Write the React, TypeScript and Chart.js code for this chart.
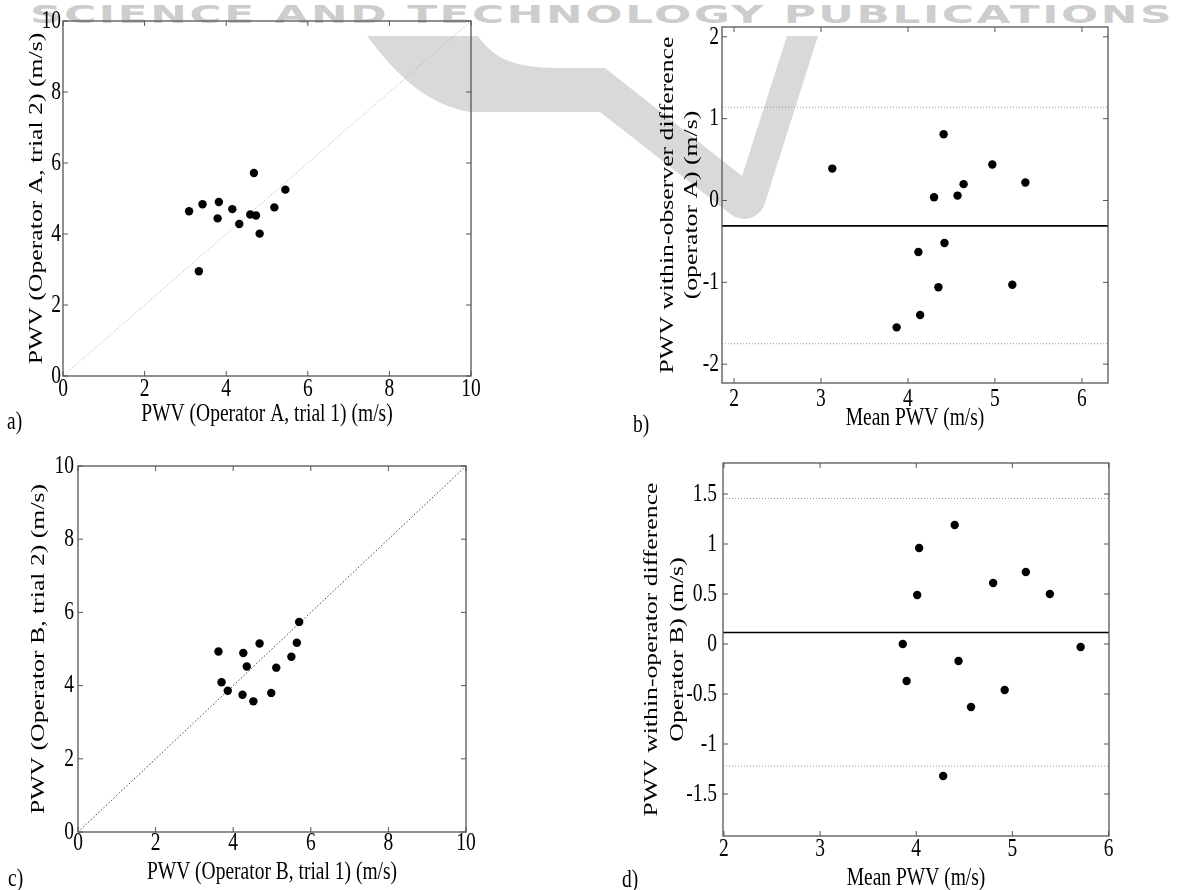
import { useEffect, useRef } from "react";
import { Chart, registerables } from "chart.js";
Chart.register(...registerables);

// ---------- Panel a: Operator A, trial 1 vs trial 2 ----------
const aTrial1 = [3.09, 3.42, 3.82, 3.79, 4.15, 4.32, 4.59, 4.73, 4.68, 4.82, 5.18, 5.45, 3.33];
const aTrial2 = [4.64, 4.84, 4.9, 4.44, 4.7, 4.28, 4.55, 4.52, 5.72, 4.01, 4.75, 5.25, 2.95];
// ---------- Panel b: Bland-Altman operator A ----------
const bMean = [3.13, 4.41, 4.97, 5.35, 4.3, 4.57, 4.64, 4.42, 4.12, 4.35, 5.2, 4.14, 3.87];
const bDiff = [0.39, 0.81, 0.44, 0.22, 0.04, 0.06, 0.2, -0.52, -0.63, -1.06, -1.03, -1.4, -1.55];
const bBias = -0.31;
const bUpper = 1.14;
const bLower = -1.75;
// ---------- Panel c: Operator B, trial 1 vs trial 2 ----------
const cTrial1 = [3.62, 3.7, 3.86, 4.26, 4.35, 4.24, 4.52, 4.68, 4.98, 5.11, 5.5, 5.64, 5.7];
const cTrial2 = [4.93, 4.09, 3.86, 4.89, 4.52, 3.75, 3.57, 5.15, 3.8, 4.49, 4.79, 5.17, 5.74];
// ---------- Panel d: Bland-Altman operator B ----------
const dMean = [4.4, 4.03, 4.01, 4.8, 5.14, 5.39, 3.86, 5.71, 4.44, 3.9, 4.92, 4.57, 4.28];
const dDiff = [1.19, 0.96, 0.49, 0.61, 0.72, 0.5, 0.0, -0.03, -0.17, -0.37, -0.46, -0.63, -1.32];
const dBias = 0.115;
const dUpper = 1.455;
const dLower = -1.22;

// identity line and ranges / ticks
const identity = [0, 10];
const scatterRange = [0, 10];
const scatterTicks = [0, 2, 4, 6, 8, 10];
const bXRange = [1.862, 6.3];
const bYRange = [-2.23, 2.12];
const bXTicks = [2, 3, 4, 5, 6];
const bYTicks = [-2, -1, 0, 1, 2];
const dXRange = [1.99, 6.005];
const dYRange = [-1.92, 1.81];
const dXTicks = [2, 3, 4, 5, 6];
const dYTicks = [-1.5, -1, -0.5, 0, 0.5, 1, 1.5];

const FONT = "'Liberation Serif', 'Times New Roman', serif";
const FS = 19.5;
const K = 1.32; // vertical stretch of all text, as in the reference

const stretchText = {
  id: "stretchText",
  beforeDraw(chart: any) {
    const ctx: any = chart.ctx;
    if (ctx.__stretched) return;
    ctx.__stretched = true;
    const orig = ctx.fillText.bind(ctx);
    ctx.fillText = (text: string, x: number, y: number, maxWidth?: number) => {
      const m = ctx.getTransform();
      const p = m.transformPoint(new DOMPoint(x, y));
      ctx.save();
      ctx.setTransform(
        new DOMMatrix().translate(p.x, p.y).scale(1, K).translate(-p.x, -p.y).multiply(m)
      );
      if (maxWidth === undefined || maxWidth === null) orig(text, x, y);
      else orig(text, x, y, maxWidth);
      ctx.restore();
    };
  },
};

const frame = {
  id: "frame",
  afterDraw(chart: any) {
    const { ctx, chartArea } = chart;
    const { left, right, top, bottom } = chartArea;
    const xs = chart.scales.x;
    const ys = chart.scales.y;
    const L = 5;
    ctx.save();
    ctx.strokeStyle = "#555";
    ctx.lineWidth = 1;
    ctx.beginPath();
    for (const t of xs.ticks) {
      const px = xs.getPixelForValue(t.value);
      ctx.moveTo(px, bottom);
      ctx.lineTo(px, bottom - L);
      ctx.moveTo(px, top);
      ctx.lineTo(px, top + L);
    }
    for (const t of ys.ticks) {
      const py = ys.getPixelForValue(t.value);
      ctx.moveTo(left, py);
      ctx.lineTo(left + L, py);
      ctx.moveTo(right, py);
      ctx.lineTo(right - L, py);
    }
    ctx.stroke();
    ctx.lineWidth = 1.3;
    ctx.strokeRect(left, top, right - left, bottom - top);
    ctx.restore();
  },
};

type PanelCfg = {
  width: number;
  height: number;
  padding: { left: number; top: number; right: number; bottom: number };
  yWidth: number;
  xHeight: number;
  xRange: number[];
  yRange: number[];
  xTicks: number[];
  yTicks: number[];
  xTickPad: number;
  yTickPad: number;
  xTitle: string;
  yTitle: string | string[];
  xTitlePad: number;
  yTitlePad: number;
  yTitleLH: number;
  datasets: any[];
};

function Panel({ cfg, style }: { cfg: PanelCfg; style: any }) {
  const ref = useRef<HTMLCanvasElement>(null);
  useEffect(() => {
    if (!ref.current) return;
    const font = { family: FONT, size: FS };
    const chart = new Chart(ref.current, {
      type: "scatter",
      data: { datasets: cfg.datasets },
      plugins: [stretchText, frame],
      options: {
        animation: false,
        responsive: false,
        devicePixelRatio: 1,
        layout: { padding: cfg.padding },
        plugins: { legend: { display: false }, tooltip: { enabled: false } },
        scales: {
          x: {
            type: "linear",
            min: cfg.xRange[0],
            max: cfg.xRange[1],
            grid: { display: false, drawTicks: false },
            border: { display: false },
            afterBuildTicks: (s: any) => {
              s.ticks = cfg.xTicks.map((v) => ({ value: v }));
            },
            afterFit: (s: any) => {
              s.height = cfg.xHeight;
            },
            ticks: {
              autoSkip: false,
              maxRotation: 0,
              padding: cfg.xTickPad,
              color: "#000",
              font,
              callback: (v: any) => String(+v),
            },
            title: {
              display: true,
              text: cfg.xTitle,
              color: "#000",
              font: { family: FONT, size: FS, lineHeight: 1.2 },
              padding: { top: 0, bottom: cfg.xTitlePad },
            },
          },
          y: {
            type: "linear",
            min: cfg.yRange[0],
            max: cfg.yRange[1],
            grid: { display: false, drawTicks: false },
            border: { display: false },
            afterBuildTicks: (s: any) => {
              s.ticks = cfg.yTicks.map((v) => ({ value: v }));
            },
            afterFit: (s: any) => {
              s.width = cfg.yWidth;
            },
            ticks: {
              autoSkip: false,
              padding: cfg.yTickPad,
              color: "#000",
              font,
              callback: (v: any) => String(+v),
            },
            title: {
              display: true,
              text: cfg.yTitle,
              color: "#000",
              font: { family: FONT, size: FS, lineHeight: cfg.yTitleLH / FS },
              padding: { top: cfg.yTitlePad, bottom: 0 },
            },
          },
        },
      } as any,
    });
    return () => chart.destroy();
  }, []);
  return (
    <canvas
      ref={ref}
      width={cfg.width}
      height={cfg.height}
      style={{ position: "absolute", width: cfg.width, height: cfg.height, ...style }}
    />
  );
}

const pts = (xs: number[], ys: number[]) => xs.map((x, i) => ({ x, y: ys[i] }));
const dots = (xs: number[], ys: number[]) => ({
  type: "scatter",
  data: pts(xs, ys),
  backgroundColor: "#000",
  borderWidth: 0,
  pointRadius: 4.2,
});
const hline = (range: number[], y: number, color: string, width: number, dash: number[]) => ({
  type: "line",
  data: [
    { x: range[0], y },
    { x: range[1], y },
  ],
  borderColor: color,
  borderWidth: width,
  borderDash: dash,
  pointRadius: 0,
  showLine: true,
});
const diag = (color: string, dash: number[]) => ({
  type: "line",
  data: pts(identity, identity),
  borderColor: color,
  borderWidth: 1,
  borderDash: dash,
  pointRadius: 0,
  showLine: true,
});

const panelA: PanelCfg = {
  width: 600,
  height: 445,
  padding: { left: 0, top: 21, right: 129, bottom: 0 },
  yWidth: 63,
  xHeight: 69,
  xRange: scatterRange,
  yRange: scatterRange,
  xTicks: scatterTicks,
  yTicks: scatterTicks,
  xTickPad: 2,
  yTickPad: 2,
  xTitle: "PWV (Operator A, trial 1) (m/s)",
  yTitle: "PWV (Operator A, trial 2) (m/s)",
  xTitlePad: 19,
  yTitlePad: 25,
  yTitleLH: 23.4,
  datasets: [dots(aTrial1, aTrial2), diag("#aaa", [1, 2])],
};

const panelB: PanelCfg = {
  width: 592,
  height: 445,
  padding: { left: 0, top: 27, right: 84, bottom: 0 },
  yWidth: 122,
  xHeight: 62,
  xRange: bXRange,
  yRange: bYRange,
  xTicks: bXTicks,
  yTicks: bYTicks,
  xTickPad: 5,
  yTickPad: 3,
  xTitle: "Mean PWV (m/s)",
  yTitle: ["PWV within-observer difference", "(operator A) (m/s)"],
  xTitlePad: 15,
  yTitlePad: 56,
  yTitleLH: 24,
  datasets: [
    dots(bMean, bDiff),
    hline(bXRange, bBias, "#000", 1.6, []),
    hline(bXRange, bUpper, "#999", 1, [1, 2]),
    hline(bXRange, bLower, "#999", 1, [1, 2]),
  ],
};

const panelC: PanelCfg = {
  width: 600,
  height: 445,
  padding: { left: 0, top: 21, right: 134, bottom: 0 },
  yWidth: 78,
  xHeight: 58,
  xRange: scatterRange,
  yRange: scatterRange,
  xTicks: scatterTicks,
  yTicks: scatterTicks,
  xTickPad: 0,
  yTickPad: 4,
  xTitle: "PWV (Operator B, trial 1) (m/s)",
  yTitle: "PWV (Operator B, trial 2) (m/s)",
  xTitlePad: 6,
  yTitlePad: 27,
  yTitleLH: 23.4,
  datasets: [dots(cTrial1, cTrial2), diag("#444", [1.5, 2])],
};

const panelD: PanelCfg = {
  width: 592,
  height: 445,
  padding: { left: 0, top: 18, right: 83, bottom: 0 },
  yWidth: 123,
  xHeight: 54,
  xRange: dXRange,
  yRange: dYRange,
  xTicks: dXTicks,
  yTicks: dYTicks,
  xTickPad: 2,
  yTickPad: 6,
  xTitle: "Mean PWV (m/s)",
  yTitle: ["PWV within-operator difference", "Operator B) (m/s)"],
  xTitlePad: 0,
  yTitlePad: 39,
  yTitleLH: 26,
  datasets: [
    dots(dMean, dDiff),
    hline(dXRange, dBias, "#000", 1.6, []),
    hline(dXRange, dUpper, "#999", 1, [1, 2]),
    hline(dXRange, dLower, "#999", 1, [1, 2]),
  ],
};

const labelStyle = (left: number, top: number): any => ({
  position: "absolute",
  left,
  top,
  fontFamily: FONT,
  fontSize: FS,
  lineHeight: "20px",
  color: "#000",
  transform: `scaleY(${K})`,
  transformOrigin: "top left",
  whiteSpace: "nowrap",
});

export default function App() {
  useEffect(() => {
    document.body.style.margin = "0";
  }, []);
  return (
    <div style={{ position: "relative", width: 1192, height: 890, overflow: "hidden", background: "#fff" }}>
      <svg width={1192} height={890} style={{ position: "absolute", left: 0, top: 0 }}>
        <path
          d="M 367 36 L 478 36 C 495 60 515 68 560 68 L 605 68 L 742 176 L 787 36 L 818 36 L 764 206 C 756 222 738 222 728 212 L 600 112 L 470 112 C 430 105 400 80 367 36 Z"
          fill="#d9d9d9"
        />
      </svg>
      <div
        style={{
          position: "absolute",
          left: 30,
          top: 0,
          fontFamily: "'DejaVu Sans', sans-serif",
          fontWeight: "bold",
          fontSize: 25,
          lineHeight: "30px",
          color: "#cdcdcd",
          whiteSpace: "nowrap",
          transform: "scaleX(1.75)",
          transformOrigin: "top left",
          letterSpacing: "1.5px",
        }}
      >
        SCIENCE AND TECHNOLOGY PUBLICATIONS
      </div>
      <Panel cfg={panelA} style={{ left: 0, top: 0 }} />
      <Panel cfg={panelB} style={{ left: 600, top: 0 }} />
      <Panel cfg={panelC} style={{ left: 0, top: 445 }} />
      <Panel cfg={panelD} style={{ left: 600, top: 445 }} />
      <div style={labelStyle(7, 408)}>a)</div>
      <div style={labelStyle(633, 411)}>b)</div>
      <div style={labelStyle(8, 865)}>c)</div>
      <div style={labelStyle(622, 866)}>d)</div>
    </div>
  );
}
